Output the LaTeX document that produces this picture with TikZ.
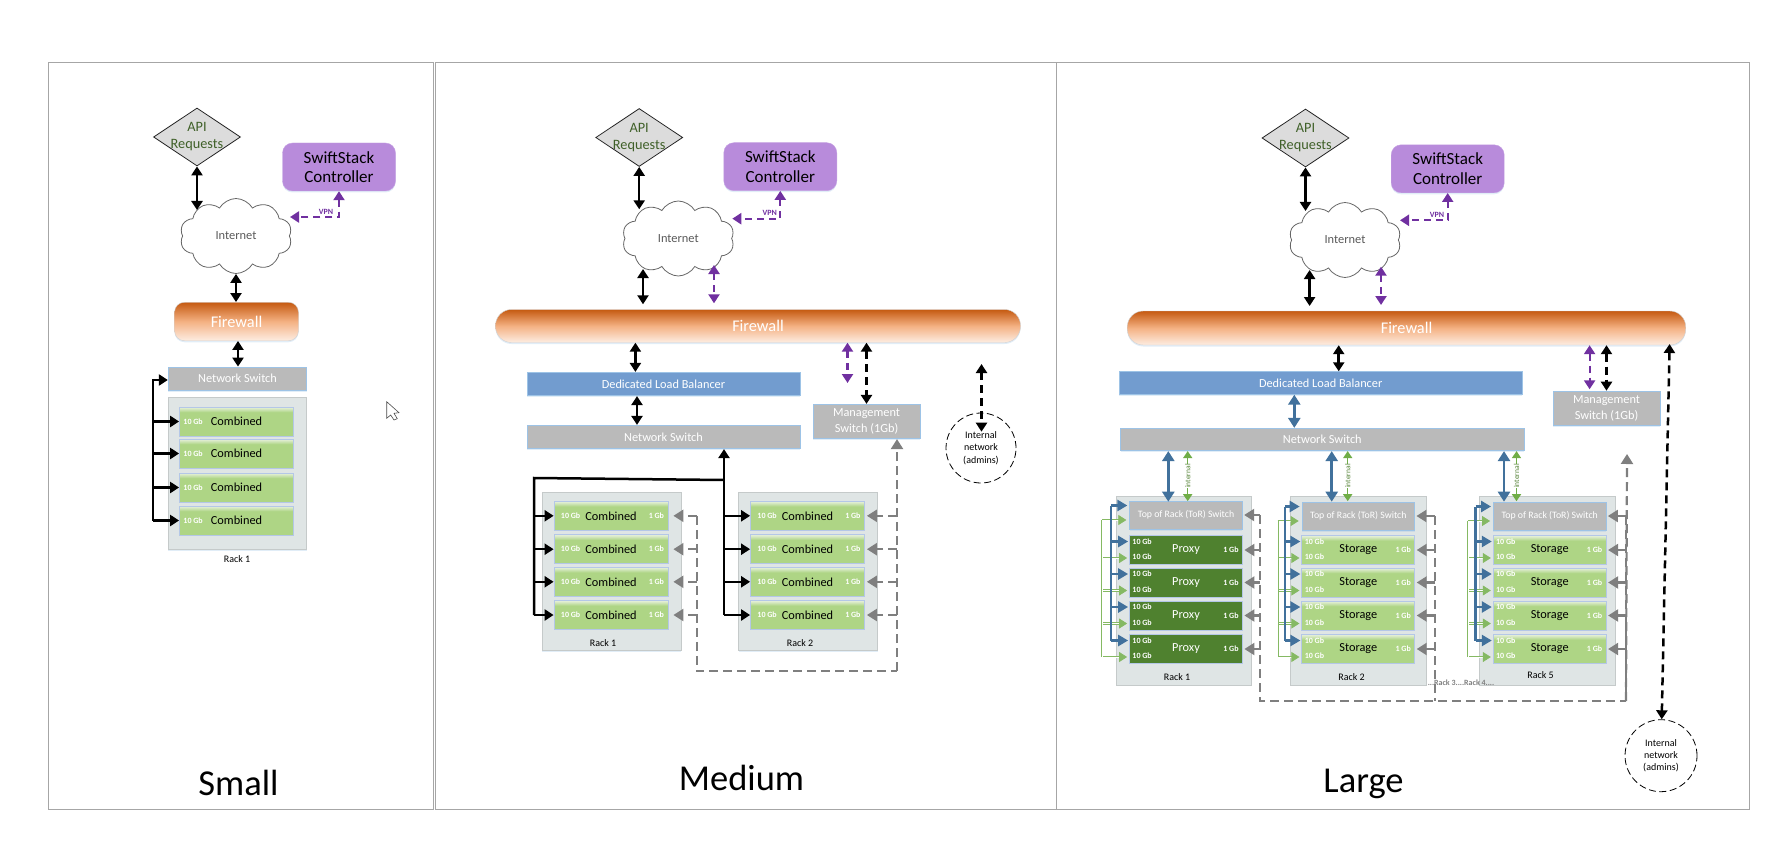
\documentclass[tikz,border=0pt]{standalone}
\usepackage{fontspec}
\setmainfont{Carlito}
\usetikzlibrary{arrows.meta,shapes.geometric,shapes.symbols,shadows}
\definecolor{framegrey}{HTML}{A6A6A6}
\definecolor{apigrey}{HTML}{DCDCDC}
\definecolor{apitext}{HTML}{3F6028}
\definecolor{ctrlpurple}{HTML}{B88BDB}
\definecolor{vpnpurple}{HTML}{7030A0}
\definecolor{fireorange}{HTML}{C55A11}
\definecolor{firemid}{HTML}{F4B183}
\definecolor{firepale}{HTML}{FDEDE2}
\definecolor{switchgrey}{HTML}{BABABA}
\definecolor{edgeblue}{HTML}{9DC3E6}
\definecolor{lbblue}{HTML}{729CCF}
\definecolor{linkblue}{HTML}{41719C}
\definecolor{linkgreen}{HTML}{70AD47}
\definecolor{rackgrey}{HTML}{DFE5E5}
\definecolor{rackedge}{HTML}{C5CACA}
\definecolor{leafgreen}{HTML}{AED585}
\definecolor{leaftop}{HTML}{E2EED4}
\definecolor{leafedge}{HTML}{B4C7E7}
\definecolor{proxygreen}{HTML}{4F812F}
\definecolor{railgrey}{HTML}{7F7F7F}
\pgfdeclareverticalshading{leafbar}{100bp}{color(0bp)=(leafgreen); color(66bp)=(leafgreen); color(74bp)=(leaftop); color(100bp)=(leaftop)}
\newcommand{\pxfont}[2]{\fontsize{#1}{#2}\selectfont}
\tikzset{
    softshadow/.style={drop shadow={shadow xshift=0pt,shadow yshift=-1.5pt,opacity=.3,fill=edgeblue}},
    framebox/.style={draw=framegrey,line width=.9pt,inner sep=0},
    apibox/.style={diamond,draw=black!85,line width=.8pt,fill=apigrey,inner sep=0,minimum width=87,minimum height=58,aspect=1.5,
        label={[align=center,text=apitext,font=\pxfont{14.3}{17}]center:API\\Requests}},
    ctrlbox/.style={draw=ctrlpurple!80,fill=ctrlpurple,rounded corners=10pt,minimum width=113,minimum height=48,inner sep=0,
        align=center,font=\pxfont{17}{19.5},softshadow},
    cloudbox/.style={cloud,cloud puffs=10,cloud puff arc=120,aspect=1.5,cloud ignores aspect,draw=black!60,line width=.8pt,fill=white,inner sep=0,
        minimum width=112,minimum height=75,text=black!65,font=\pxfont{12.4}{14}},
    firewallbox/.style={draw=black!18,top color=fireorange,bottom color=firepale,middle color=firemid,inner sep=0,
        text=white,font=\pxfont{16.3}{18},softshadow},
    switchbox/.style={draw=edgeblue,line width=.8pt,fill=switchgrey,inner sep=0,text=white,align=center,font=\pxfont{12.3}{16},softshadow},
    lbbox/.style={switchbox,fill=lbblue},
    torbox/.style={switchbox,minimum width=112.5,minimum height=28,font=\pxfont{9.8}{12}},
    rackbox/.style={draw=rackedge,line width=.8pt,fill=rackgrey,inner sep=0,softshadow},
    racklabel/.style={inner sep=0,font=\pxfont{10}{12}},
    combinedbox/.style={draw=leafedge,line width=.8pt,shading=leafbar,inner sep=0,minimum width=114,minimum height=29,font=\pxfont{12.3}{14}},
    storagebox/.style={combinedbox},
    proxybox/.style={draw=leafedge,line width=.8pt,fill=proxygreen,inner sep=0,minimum height=29,text=white,font=\pxfont{12.3}{14}},
    gblabel/.style={inner sep=0,text=white,font=\pxfont{8}{9}\bfseries},
    titlelabel/.style={inner sep=0,anchor=base,font=\pxfont{36.5}{40}},
    vpnlabel/.style={inner sep=0,text=vpnpurple,font=\pxfont{8}{9}\bfseries},
    intlabel/.style={inner sep=.6pt,fill=white,rotate=90,text=linkgreen!75!black,font=\pxfont{7.5}{8}},
    dotlabel/.style={inner sep=0,text=railgrey,font=\pxfont{8}{9}\bfseries},
    adminbox/.style={circle,draw=black,dash pattern=on 7pt off 3.5pt,line width=.8pt,fill=white,minimum size=70,inner sep=0,align=center,font=\pxfont{10}{12.4}},
    biblack/.style={{Triangle[width=11pt,length=9pt]}-{Triangle[width=11pt,length=9pt]},line width=2.5pt},
    onewayblack/.style={-{Triangle[width=11pt,length=9pt]},line width=2.5pt},
    bidash/.style={biblack,dash pattern=on 8pt off 5pt},
    bipurple/.style={{Triangle[width=11pt,length=9pt]}-{Triangle[width=11pt,length=9pt]},draw=vpnpurple,line width=2.2pt,dash pattern=on 7pt off 5pt},
    biblue/.style={{Triangle[width=12pt,length=10pt]}-{Triangle[width=12pt,length=10pt]},draw=linkblue,line width=2.5pt},
    bigreen/.style={{Triangle[width=9pt,length=7pt]}-{Triangle[width=9pt,length=7pt]},draw=linkgreen,line width=1.5pt},
    blueline/.style={-{Triangle[width=11pt,length=10pt]},draw=linkblue,line width=2.6pt},
    greenline/.style={-{Triangle[width=10pt,length=8pt]},draw=linkgreen!85,line width=.7pt,double=white,double distance=.9pt},
    greyline/.style={draw=railgrey,line width=2.2pt,dash pattern=on 9pt off 5pt},
    greyarrow/.style={greyline,-{Triangle[width=12pt,length=10pt]}}
}
\begin{document}
\begin{tikzpicture}[x=1pt,y=-1pt]
\useasboundingbox (0,0) rectangle (1782,845);
\node (frameS) [framebox,minimum width=385,minimum height=747] at (240.5,435.5) {};
\node (frameM) [framebox,minimum width=621,minimum height=747] at (745.5,435.5) {};
\node (frameL) [framebox,minimum width=693,minimum height=747] at (1402.5,435.5) {};
\node (titleS) [titlelabel] at (238.5,795) {Small};
\node (titleM) [titlelabel] at (741.5,790) {Medium};
\node (titleL) [titlelabel] at (1363.5,792) {Large};
% top of each panel
\foreach \pn/\ax/\ay/\cx/\cy/\lx/\ly/\tipy/\vy/\vx/\tx in {S/197/137/339/167/236/236/210/217/326/290,M/639.2/137.5/780.3/166.7/678.3/238.5/209.3/218.7/769.7/732.3,L/1305.5/138/1447.7/168.8/1345/240/211/220.3/1437/1400}{
    \node (api\pn) [apibox] at (\ax,\ay) {};
    \node (ctrl\pn) [ctrlbox] at (\cx,\cy) {SwiftStack\\Controller};
    \node (net\pn) [cloudbox] at (\lx,\ly) {Internet};
    \coordinate (apiTip\pn) at (\ax,\tipy);
    \coordinate (vpnTip\pn) at (\tx,\vy);
    \node (vpn\pn) [vpnlabel] at (\vx,\vy-5.5) {VPN};
    \draw[biblack] (api\pn.south) -- (apiTip\pn);
    \draw[bipurple] (ctrl\pn.south) -- (ctrl\pn.south |- vpnTip\pn) -- (vpnTip\pn);
}
% small
\node (fwS) [firewallbox,rounded corners=10pt,minimum width=124,minimum height=38.5] at (236.5,321.5) {Firewall};
\node (nsS) [switchbox,minimum width=138.5,minimum height=23] at (237.5,378.5) {Network Switch};
\node (rackS) [rackbox,minimum width=138.5,minimum height=152] at (237.5,473) {};
\node (rackLabS) [racklabel] at (237,559) {Rack 1};
\coordinate (busS) at (153,380);
\coordinate (fwNsS) at (238,352);
\foreach \n/\cy in {1/421.5,2/453.5,3/487.5,4/520.5}{
    \node (cS\n) [combinedbox] at (236.5,\cy) {Combined};
    \node (tenS\n) [gblabel] at ([xshift=14pt]cS\n.west) {10 Gb};
    \draw[onewayblack] (busS |- cS\n.west) -- (cS\n.west);
}
\draw[biblack] (netS.south) -- (netS.south |- fwS.north);
\draw[biblack] (fwNsS |- fwS.south) -- (fwNsS |- nsS.north);
\draw[onewayblack] (busS |- cS4.west) -- (busS) -- (nsS.west |- busS);
\draw[draw=black!70,fill=white,line width=.6pt] (386.7,401.7) -- (386.7,418.3) -- (390.7,415) -- (394,420) -- (397.3,418.7) -- (394,413.3) -- (399,412.7) -- cycle;
% medium
\node (fwM) [firewallbox,rounded corners=16pt,minimum width=525,minimum height=33] at (758,326) {Firewall};
\node (lbM) [lbbox,minimum width=273,minimum height=23.4] at (663.5,384) {Dedicated Load Balancer};
\node (nsM) [switchbox,minimum width=273,minimum height=23.4] at (663.5,437) {Network Switch};
\node (mgmtM) [switchbox,minimum width=107,minimum height=34.4] at (866.5,421.5) {Management\\Switch (1Gb)};
\node (adminM) [adminbox] at (981,448) {Internal\\network\\(admins)};
\foreach \r/\rx/\cx/\lx/\lab in {a/611.5/611/603/1,b/808/807.5/800/2}{
    \node (rackM\r) [rackbox,minimum width=139,minimum height=158.4] at (\rx,571.5) {};
    \node (rackLabM\r) [racklabel] at (\lx,642.7) {Rack \lab};
    \foreach \n/\cy in {1/515.8,2/549.2,3/581.8,4/615}{
        \node (cM\r\n) [combinedbox] at (\cx,\cy) {Combined};
        \node (tenM\r\n) [gblabel] at ([xshift=17pt]cM\r\n.west) {10 Gb};
        \node (oneM\r\n) [gblabel] at ([xshift=-12pt]cM\r\n.east) {1 Gb};
    }
}
\coordinate (busMa) at (534,478);
\coordinate (busMb) at (724,480);
\coordinate (railMa) at (696.6,671);
\coordinate (railMb) at (897,671);
\coordinate (purpleM) at (847.5,383);
\coordinate (netFwM) at (643,304.3);
\coordinate (netFwTopM) at (643,269);
\coordinate (netPurpleM) at (714,303.3);
\coordinate (netPurpleTopM) at (714,265);
\coordinate (fwLbM) at (635.4,360);
\coordinate (lbNsM) at (637,410);
\coordinate (adminTopM) at (981.5,364);
\coordinate (adminTipM) at (981.5,431.7);
\draw[biblack] (netFwTopM) -- (netFwM);
\draw[bipurple] (netPurpleTopM) -- (netPurpleM);
\draw[biblack] (fwLbM |- fwM.south) -- (fwLbM |- lbM.north);
\draw[biblack] (lbNsM |- lbM.south) -- (lbNsM |- nsM.north);
\draw[bipurple] (purpleM |- fwM.south) -- (purpleM);
\draw[bidash] (mgmtM.north |- fwM.south) -- (mgmtM.north);
\draw[bidash] (adminTopM) -- (adminTipM);
\draw[line width=2.5pt] (busMa |- cMa4.west) -- (busMa) -- (busMb);
\draw[onewayblack] (busMb |- cMb4.west) -- (busMb |- nsM.south);
\foreach \r/\bus/\rail/\gap in {a/busMa/railMa/5pt,b/busMb/railMb/2pt}{
    \foreach \n in {1,2,3,4}{
        \draw[onewayblack] (\bus |- cM\r\n.west) -- (cM\r\n.west);
        \draw[greyarrow,shorten >=\gap] (\rail |- cM\r\n.east) -- (cM\r\n.east);
    }
}
\draw[greyline] (railMa |- cMa1.east) -- (railMa) -- (railMb);
\draw[greyarrow] (railMb) -- (railMb |- mgmtM.south);
% large
\node (fwL) [firewallbox,rounded corners=16pt,minimum width=558.5,minimum height=34] at (1406.5,328) {Firewall};
\node (lbL) [lbbox,minimum width=402.5,minimum height=22.6] at (1320.7,383) {Dedicated Load Balancer};
\node (nsL) [switchbox,minimum width=403.5,minimum height=22.4] at (1322.3,439.5) {Network Switch};
\node (mgmtL) [switchbox,minimum width=107,minimum height=34] at (1606.5,408.7) {Management\\Switch (1Gb)};
\node (adminL) [adminbox,minimum size=72] at (1661,755.7) {Internal\\network\\(admins)};
\foreach \r/\rx/\tx/\ty/\bx/\gx/\ux/\vx/\kind/\word/\lab/\laby/\railx in {a/1184/1186/515/1111/1102.3/1168.3/1187.7/proxybox/Proxy/1/676.7/1260,b/1358.5/1358.3/516/1285/1277.7/1331.7/1347.7/storagebox/Storage/2/676.7/1435,c/1547.5/1549.7/516/1475.7/1468.3/1504/1516.5/storagebox/Storage/5/674.7/1626}{
    \node (rackL\r) [rackbox,minimum width=135.5,minimum height=188.3] at (\rx,590.8) {};
    \node (rackLabL\r) [racklabel] at (\rx-7,\laby) {Rack \lab};
    \node (torL\r) [torbox] at (\tx,\ty) {Top of Rack (ToR) Switch};
    \coordinate (busBl\r) at (\bx,590);
    \coordinate (busGr\r) at (\gx,590);
    \coordinate (upBl\r) at (\ux,501.7);
    \coordinate (upGr\r) at (\vx,501.2);
    \coordinate (rail\r) at (\railx,701);
    \coordinate (tipBl\r0) at ([xshift=-2pt,yshift=9.5pt]torL\r.west);
    \coordinate (tipGr\r0) at ([xshift=-3pt,yshift=-5pt]torL\r.west);
    \draw[biblue] (upBl\r |- nsL.south) -- (upBl\r);
    \draw[bigreen] (upGr\r |- nsL.south) -- (upGr\r);
    \node (intL\r) [intlabel] at (\vx,476) {internal};
    \draw[blueline] (busBl\r |- tipBl\r0) -- (tipBl\r0);
    \draw[greenline] (busGr\r |- tipGr\r0) -- (tipGr\r0);
    \draw[greyarrow,shorten >=1.5pt] (rail\r |- torL\r.east) -- (torL\r.east);
    \foreach \n/\cy in {1/550,2/582.5,3/615.5,4/649}{
        \node (boxL\r\n) [\kind,minimum width=113] at (\tx,\cy) {\word};
        \node (tenAL\r\n) [gblabel] at ([xshift=13pt,yshift=8.5pt]boxL\r\n.west) {10 Gb};
        \node (tenBL\r\n) [gblabel] at ([xshift=13pt,yshift=-7pt]boxL\r\n.west) {10 Gb};
        \node (oneL\r\n) [gblabel] at ([xshift=-12pt]boxL\r\n.east) {1 Gb};
        \coordinate (tipBl\r\n) at ([xshift=-1pt,yshift=8.5pt]boxL\r\n.west);
        \coordinate (tipGr\r\n) at ([xshift=-2pt,yshift=-8pt]boxL\r\n.west);
        \draw[blueline] (busBl\r |- tipBl\r\n) -- (tipBl\r\n);
        \draw[greenline] (busGr\r |- tipGr\r\n) -- (tipGr\r\n);
        \draw[greyarrow,shorten >=1.5pt] (rail\r |- boxL\r\n.east) -- (boxL\r\n.east);
    }
    \draw[draw=linkblue,line width=2.6pt] (busBl\r |- tipBl\r0) -- (busBl\r |- tipBl\r4);
    \draw[draw=linkgreen!85,line width=.7pt,double=white,double distance=.9pt] (busGr\r |- tipGr\r0) -- (busGr\r |- tipGr\r4);
}
\node (dotsL) [dotlabel] at (1461,682.3) {...Rack 3....Rack 4....};
\coordinate (netFwL) at (1309.6,306);
\coordinate (netFwTopL) at (1309.6,270);
\coordinate (netPurpleL) at (1381,305);
\coordinate (netPurpleTopL) at (1381,266.7);
\coordinate (fwLbL) at (1338.7,360);
\coordinate (lbNsL) at (1294.3,410);
\coordinate (purpleL) at (1589.6,389.3);
\coordinate (mgmtUpL) at (1606.5,390.7);
\coordinate (adminTopL) at (1669.6,344);
\coordinate (adminTipL) at (1661.7,719.3);
\coordinate (railTopL) at (1627,454);
\draw[biblack] (netFwTopL) -- (netFwL);
\draw[bipurple] (netPurpleTopL) -- (netPurpleL);
\draw[biblack] (fwLbL |- fwL.south) -- (fwLbL |- lbL.north);
\draw[biblue] (lbNsL |- lbL.south) -- (lbNsL |- nsL.north);
\draw[bipurple] (purpleL |- fwL.south) -- (purpleL);
\draw[bidash] (mgmtUpL |- fwL.south) -- (mgmtUpL);
\draw[bidash] (adminTopL) -- (adminTipL);
\draw[greyline] (raila |- torLa.east) -- (raila) -- (railc);
\draw[greyline] (railb |- torLb.east) -- (railb);
\draw[greyline] (railc |- torLc.east) -- (railc);
\draw[greyarrow] (railc) -- (railTopL);
\end{tikzpicture}
\end{document}
